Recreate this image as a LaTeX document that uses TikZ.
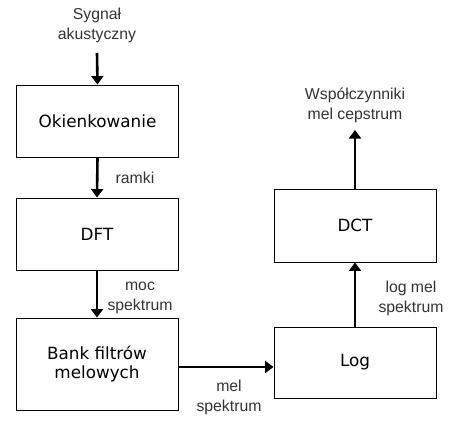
\documentclass[tikz,border=0pt]{standalone}
\usepackage{fontspec}
\setmainfont{DejaVu Sans}
\newfontfamily\lblfont{Liberation Sans}
\usetikzlibrary{arrows.meta}
\begin{document}
\begin{tikzpicture}[x=1pt,y=-1pt,
  blk/.style={draw=black,line width=0.9pt,minimum width=162pt,inner sep=0pt,
    font=\fontsize{16.8}{20}\selectfont,text=black},
  lbl/.style={align=center,inner sep=0pt,text=black!80,
    font=\lblfont\fontsize{15.8}{20}\selectfont},
  flow/.style={line width=2.6pt,-{Triangle[width=12pt,length=8.5pt]}}]
\useasboundingbox (0,0) rectangle (450,421);
\node[blk,minimum height=72pt] (okn) at (97.5,121) {Okienkowanie};
\node[blk,minimum height=72pt] (dft) at (97,234) {DFT};
\node[blk,minimum height=92pt,align=center] (bank) at (97,364) {Bank filtrów\\[-1pt]melowych};
\node[blk,minimum height=71pt] (log) at (355,362.5) {Log};
\node[blk,minimum height=73pt] (dct) at (355,225.5) {DCT};
\node[lbl] (in) at (97,25) {Sygnał\\akustyczny};
\node[lbl] (out) at (355,105) {Współczynniki\\mel cepstrum};
\coordinate (inend) at (97,53);
\coordinate (outend) at (355,130);
\coordinate (hy) at (0,367);
\draw[flow] (inend) -- (okn.north);
\draw[flow] (okn.south) -- (dft.north);
\draw[flow] (dft.south) -- (bank.north);
\draw[flow] (bank.east |- hy) -- (log.west |- hy);
\draw[flow] (log.north) -- (dct.south);
\draw[flow] (dct.north) -- (outend);
\node[lbl] (l1) at (135,178) {ramki};
\node[lbl] (l2) at (140,298) {moc\\spektrum};
\node[lbl] (l3) at (229,397) {mel\\spektrum};
\node[lbl] (l4) at (411,298) {log mel\\spektrum};
\end{tikzpicture}
\end{document}
